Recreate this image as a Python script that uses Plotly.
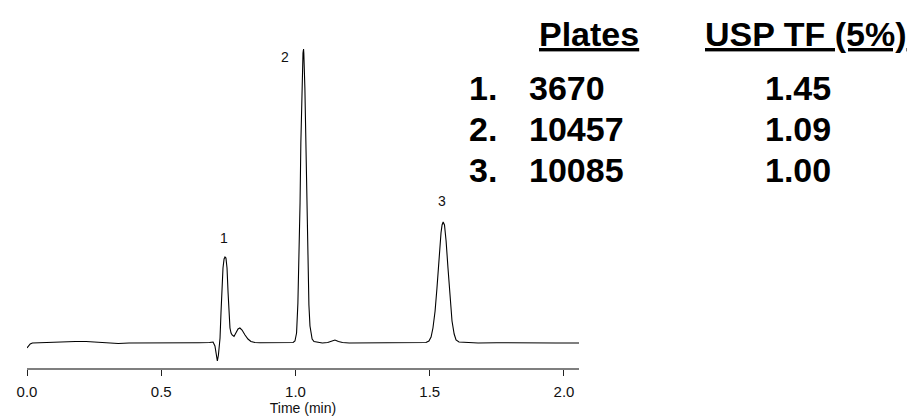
import plotly.graph_objects as go

# Chromatogram trace: retention time (min) and detector signal (arbitrary units)
time_min = [
    0.000, 0.012, 0.020, 0.060, 0.100, 0.140, 0.180, 0.220, 0.260, 0.300,
    0.340, 0.380, 0.420, 0.460, 0.500, 0.550, 0.600, 0.640, 0.680, 0.693,
    0.700, 0.709, 0.713, 0.719, 0.7225, 0.726, 0.730, 0.734, 0.7375, 0.741,
    0.745, 0.749, 0.752, 0.756, 0.760, 0.764, 0.771, 0.778, 0.786, 0.793,
    0.801, 0.812, 0.823, 0.834, 0.849, 0.868, 0.920, 0.980, 0.991, 0.998,
    1.004, 1.009, 1.013, 1.017, 1.020, 1.024, 1.028, 1.030, 1.031, 1.035,
    1.039, 1.043, 1.047, 1.050, 1.054, 1.058, 1.062, 1.069, 1.084, 1.100,
    1.120, 1.135, 1.147, 1.160, 1.175, 1.200, 1.250, 1.300, 1.350, 1.400,
    1.450, 1.486, 1.497, 1.505, 1.512, 1.520, 1.527, 1.534, 1.542, 1.546,
    1.550, 1.555, 1.561, 1.568, 1.576, 1.583, 1.591, 1.598, 1.609, 1.631,
    1.680, 1.750, 1.820, 1.900, 1.970, 2.030, 2.056,
]
signal = [
    -5.0, -1.0, 0.0, 0.5, 0.5, 1.0, 1.5, 1.5, 1.0, 0.0,
    -0.5, 0.0, 0.0, -0.3, 0.0, 0.3, 0.0, 0.3, 0.5, 1.0,
    -3.0, -18.0, -12.0, 5.0, 30.0, 55.0, 75.0, 84.0, 86.0, 85.0,
    75.0, 50.0, 28.0, 15.0, 10.0, 8.0, 6.5, 10.0, 14.0, 15.0,
    13.0, 8.0, 4.0, 1.5, 0.5, 0.3, 0.3, 0.3, 0.5, 2.0,
    10.0, 40.0, 80.0, 140.0, 200.0, 255.0, 290.0, 294.0, 290.0, 255.0,
    195.0, 130.0, 75.0, 38.0, 17.0, 8.0, 4.0, 1.5, 0.5, 0.0,
    0.5, 2.0, 3.0, 1.5, 0.5, 0.0, 0.0, 0.5, 0.0, 0.0,
    0.5, 0.5, 2.0, 6.0, 15.0, 32.0, 55.0, 85.0, 110.0, 118.0,
    121.0, 118.0, 102.0, 75.0, 45.0, 22.0, 9.0, 3.0, 1.0, 0.5,
    0.0, 0.3, 0.0, 0.3, 0.0, 0.0, 0.0,
]

# Peak numbering labels
peak_ids = ["1", "2", "3"]
peak_times = [0.7375, 1.030, 1.550]
peak_heights = [86.0, 294.0, 121.0]

# Column efficiency table
plates = ["3670", "10457", "10085"]
tailing = ["1.45", "1.09", "1.00"]

tick_vals = [0.0, 0.5, 1.0, 1.5, 2.0]
tick_text = ["0.0", "0.5", "1.0", "1.5", "2.0"]

FONT = "Liberation Sans, Arial, Helvetica, sans-serif"
W, H = 921, 416
ML, MR, MT, MB = 27, 342, 40, 48
PW, PH = W - ML - MR, H - MT - MB


def px(x):
    return (x - ML) / PW


def py(y):
    return (H - MB - y) / PH


fig = go.Figure()
fig.add_trace(go.Scatter(
    x=time_min, y=signal, mode="lines",
    line=dict(color="#000000", width=1.1),
    hoverinfo="skip", showlegend=False,
))

annotations = []
# peak numbers above the apexes
label_offsets = [(-0.002, 19), (-0.068, -8), (-0.005, 21)]
for pid, t, h, (dt, dy) in zip(peak_ids, peak_times, peak_heights, label_offsets):
    annotations.append(dict(
        x=t + dt, y=h + dy, xref="x", yref="y", text=pid, showarrow=False,
        font=dict(family=FONT, size=14, color="#111111"),
        xanchor="center", yanchor="middle",
    ))

big = dict(family=FONT, size=34, color="#000000")
annotations.append(dict(x=px(588.5), y=py(34), xref="paper", yref="paper",
                        text="<b><u>Plates</u></b>", showarrow=False, font=big,
                        xanchor="center", yanchor="middle"))
annotations.append(dict(x=px(806), y=py(34), xref="paper", yref="paper",
                        text="<b><u>USP TF (5%)</u></b>", showarrow=False, font=big,
                        xanchor="center", yanchor="middle"))
row_y = [88, 129, 169.5]
for i, (pl, tf, yy) in enumerate(zip(plates, tailing, row_y)):
    annotations.append(dict(x=px(467), y=py(yy), xref="paper", yref="paper",
                            text=f"<b>{i + 1}.</b>", showarrow=False, font=big,
                            xanchor="left", yanchor="middle"))
    annotations.append(dict(x=px(527), y=py(yy), xref="paper", yref="paper",
                            text=f"<b>{pl}</b>", showarrow=False, font=big,
                            xanchor="left", yanchor="middle"))
    annotations.append(dict(x=px(798), y=py(yy), xref="paper", yref="paper",
                            text=f"<b>{tf}</b>", showarrow=False, font=big,
                            xanchor="center", yanchor="middle"))

fig.update_layout(
    width=W, height=H,
    margin=dict(l=ML, r=MR, t=MT, b=MB),
    paper_bgcolor="#ffffff", plot_bgcolor="#ffffff",
    font=dict(family=FONT, size=14, color="#111111"),
    annotations=annotations,
    xaxis=dict(
        range=[0, 2.056], showgrid=False, zeroline=False,
        showline=True, linecolor="#7f7f7f", linewidth=2,
        ticks="outside", ticklen=6, tickwidth=1, tickcolor="#222222",
        tickvals=tick_vals, ticktext=tick_text, ticklabelstandoff=3,
        tickfont=dict(family=FONT, size=15, color="#111111"),
        title=dict(text="Time (min)", standoff=5,
                   font=dict(family=FONT, size=14, color="#111111")),
        automargin=False, fixedrange=True,
    ),
    yaxis=dict(
        range=[-25, 303], visible=False, showgrid=False, zeroline=False,
        fixedrange=True,
    ),
)

fig.write_html("out.html")
